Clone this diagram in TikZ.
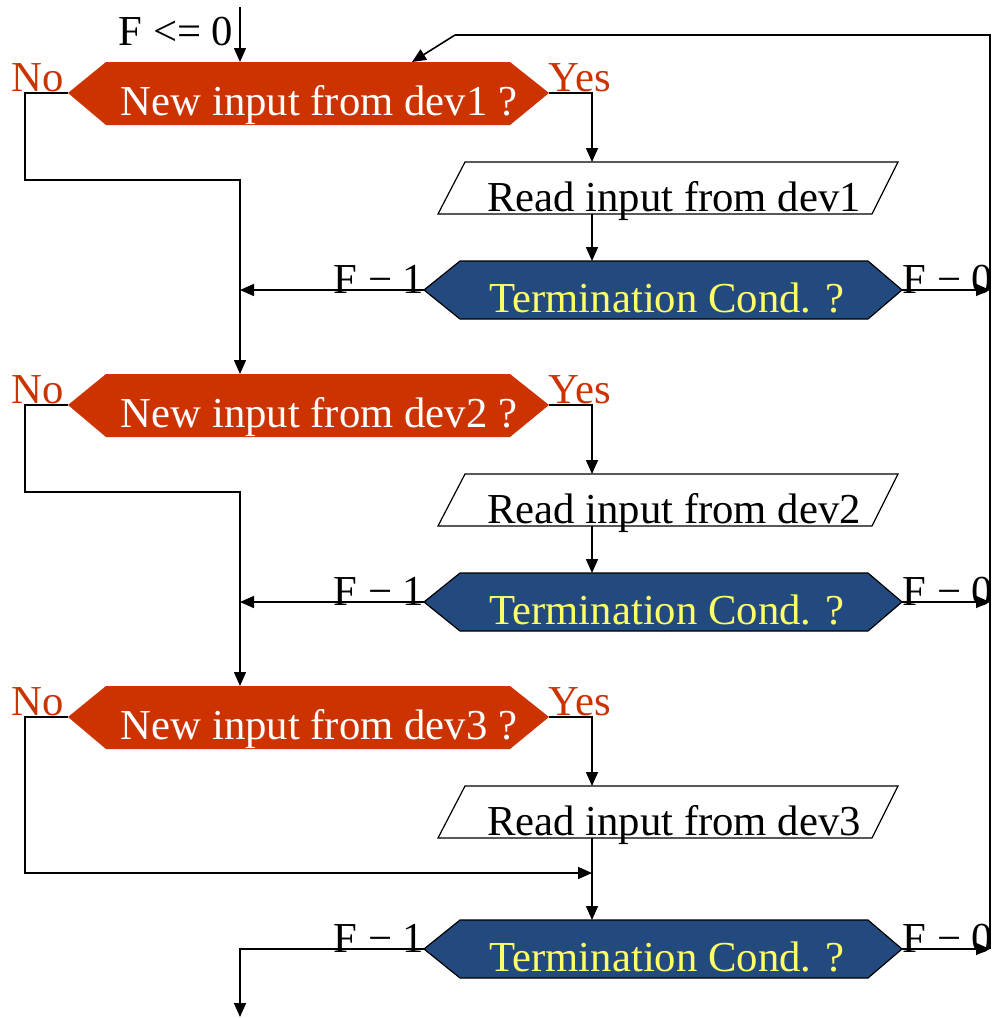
\documentclass[tikz,border=0pt]{standalone}
\usepackage{fontspec}
\setmainfont{Liberation Serif}
\usetikzlibrary{arrows.meta}
\definecolor{decor}{HTML}{CC3300}
\definecolor{termblue}{HTML}{224A7E}
\definecolor{termtext}{HTML}{FFFF66}
\tikzset{
  conn/.style={line width=1.6pt, draw=black},
  arr/.style={conn, -{Triangle[length=14pt,width=12pt]}},
  decshape/.style={fill=decor, draw=none},
  termshape/.style={fill=termblue, draw=black, line width=1.2pt},
  ioshape/.style={draw=black, line width=1.2pt, fill=white},
  lbl/.style={font=\fontsize{42.7}{50}\selectfont, inner sep=0pt, anchor=base},
  declbl/.style={lbl, text=white},
  termlbl/.style={lbl, text=termtext},
  branchlbl/.style={lbl, text=decor},
}
\begin{document}
\begin{tikzpicture}[x=1pt,y=-1pt]
\useasboundingbox[fill=white] (0,0) rectangle (999,1018);

% ---- decisions and inputs (rows offset 312) ----
\foreach \k/\o in {1/0,2/312,3/624}{
  \fill[decshape] (68,93+\o) -- (106,62+\o) -- (510,62+\o) -- (549,93+\o) -- (510,125+\o) -- (106,125+\o) -- cycle;
  \draw[ioshape] (465,162+\o) -- (898,162+\o) -- (872,214+\o) -- (438,214+\o) -- cycle;
  \coordinate (d\k L) at (68,93+\o);
  \coordinate (d\k R) at (549,93+\o);
  \coordinate (d\k T) at (240,62+\o);
  \coordinate (p\k T) at (592,162+\o);
  \coordinate (p\k B) at (592,214+\o);
  \coordinate (no\k) at (25,93+\o);
  \node[declbl] (dt\k) at (319,115+\o) {New input from dev\k\ ?};
  \node[lbl] (pt\k) at (674,211+\o) {Read input from dev\k};
  \node[branchlbl] (no\k t) at (38,91+\o) {No};
  \node[branchlbl] (yes\k t) at (580,91+\o) {Yes};
}
% ---- terminations ----
\foreach \k/\o in {1/0,2/312,3/659}{
  \draw[termshape] (424,290+\o) -- (460,261+\o) -- (868,261+\o) -- (902,290+\o) -- (868,319+\o) -- (460,319+\o) -- cycle;
  \coordinate (t\k L) at (424,290+\o);
  \coordinate (t\k R) at (902,290+\o);
  \coordinate (t\k T) at (592,261+\o);
  \coordinate (r\k) at (990,290+\o);
  \coordinate (l\k) at (240,290+\o);
  \node[termlbl] (tt\k) at (667,312+\o) {Termination Cond. ?};
}

% ---- extra coordinates ----
\coordinate (start) at (240,7);
\coordinate (loopT) at (990,35);
\coordinate (loopM) at (455,35);
\coordinate (d1in) at (412,62);
\coordinate (end) at (240,1017);
\coordinate (merge) at (592,873);
\coordinate (b1) at (25,180);
\coordinate (c1) at (240,180);
\coordinate (b2) at (25,492);
\coordinate (c2) at (240,492);

% ---- connectors ----
\draw[arr] (start) -- (d1T);
\draw[conn] (r3) -- (loopT) -- (loopM);
\draw[arr] (loopM) -- (d1in);

\foreach \k in {1,2,3}{
  \draw[arr] (d\k R) -| (p\k T);
  \draw[arr] (t\k R) -- (r\k);
}
\draw[arr] (p1B) -- (t1T);
\draw[arr] (p2B) -- (t2T);
\draw[arr] (p3B) -- (t3T);

\draw[arr] (d1L) -- (no1) -- (b1) -- (c1) -- (d2T);
\draw[arr] (d2L) -- (no2) -- (b2) -- (c2) -- (d3T);
\draw[arr] (d3L) -- (no3) |- (merge);
\draw[arr] (t1L) -- (l1);
\draw[arr] (t2L) -- (l2);
\draw[arr] (t3L) -- (l3) -- (end);

% ---- labels ----
\node[lbl] (finit) at (176,45) {F <= 0};
\foreach \k/\o in {1/0,2/312,3/659}{
  \node[lbl] (f1\k) at (379,293+\o) {F − 1};
  \node[lbl] (f0\k) at (948,293+\o) {F − 0};
}
\end{tikzpicture}
\end{document}
